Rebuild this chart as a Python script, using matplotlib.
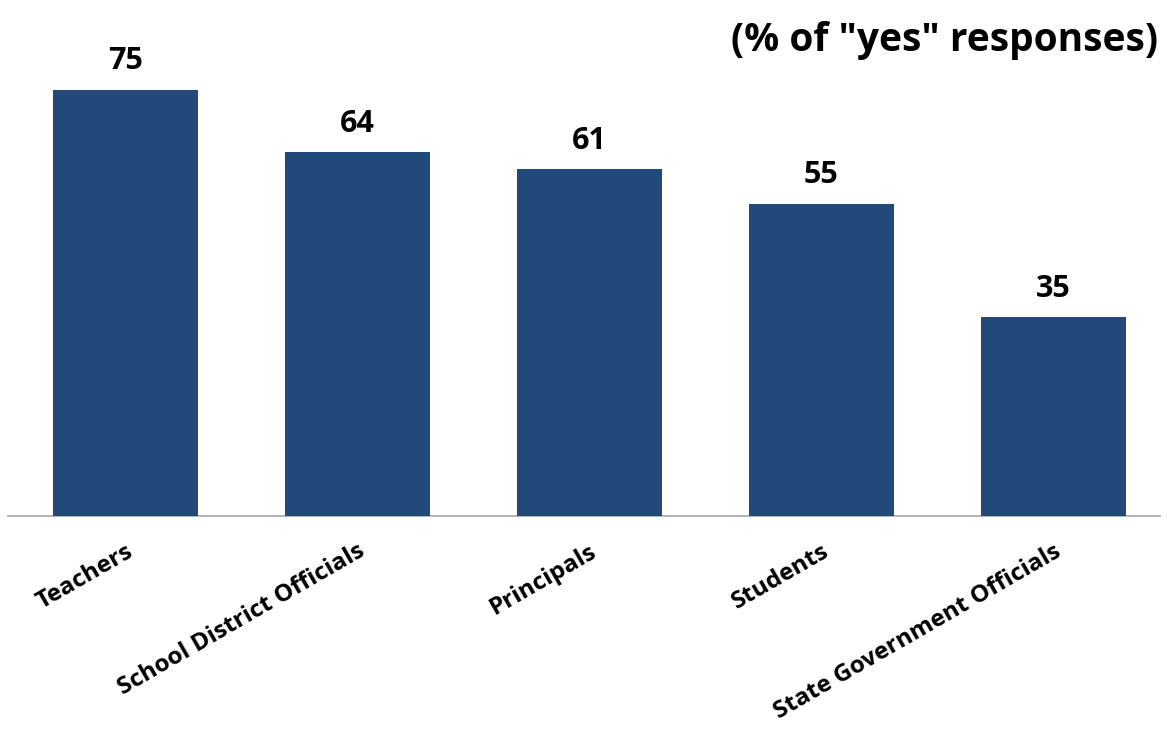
import matplotlib
matplotlib.use('Agg')
import matplotlib.pyplot as plt
import numpy as np

plt.rcParams['font.family'] = ['Open Sans', 'DejaVu Sans']

# --- Data ---
groups = ['Teachers', 'School District Officials', 'Principals', 'Students',
          'State Government Officials']
yes_pct = [75, 64, 61, 55, 35]

fig = plt.figure(figsize=(11.67, 7.3), dpi=100)
ax = fig.add_axes([0.0069, 0.2932, 0.987, 0.7003])

x = np.arange(len(groups))
bars = ax.bar(x, yes_pct, 0.625, color='#214a7b', zorder=3)

for bar in bars:
    h = bar.get_height()
    ax.text(bar.get_x() + bar.get_width() / 2., h + 2.4, f'{h:.0f}',
            ha='center', va='bottom', fontsize=22, fontweight='bold', color='black')

ax.set_xlim(-0.506, 4.46)
ax.set_ylim(0, 90)
ax.set_xticks(x)
ax.set_xticklabels(groups, fontsize=17.5, fontweight='bold', rotation=30,
                   ha='right', va='top', rotation_mode='anchor')
ax.tick_params(axis='x', length=0, pad=17)
ax.set_yticks([])
for side in ['top', 'right', 'left']:
    ax.spines[side].set_visible(False)
ax.spines['bottom'].set_color('#a6a6a6')
ax.spines['bottom'].set_linewidth(1.2)

fig.text(0.992, 0.945, '(% of "yes" responses)', ha='right', va='center',
         fontsize=28, fontweight='bold')

plt.savefig('out.png', dpi=100)
